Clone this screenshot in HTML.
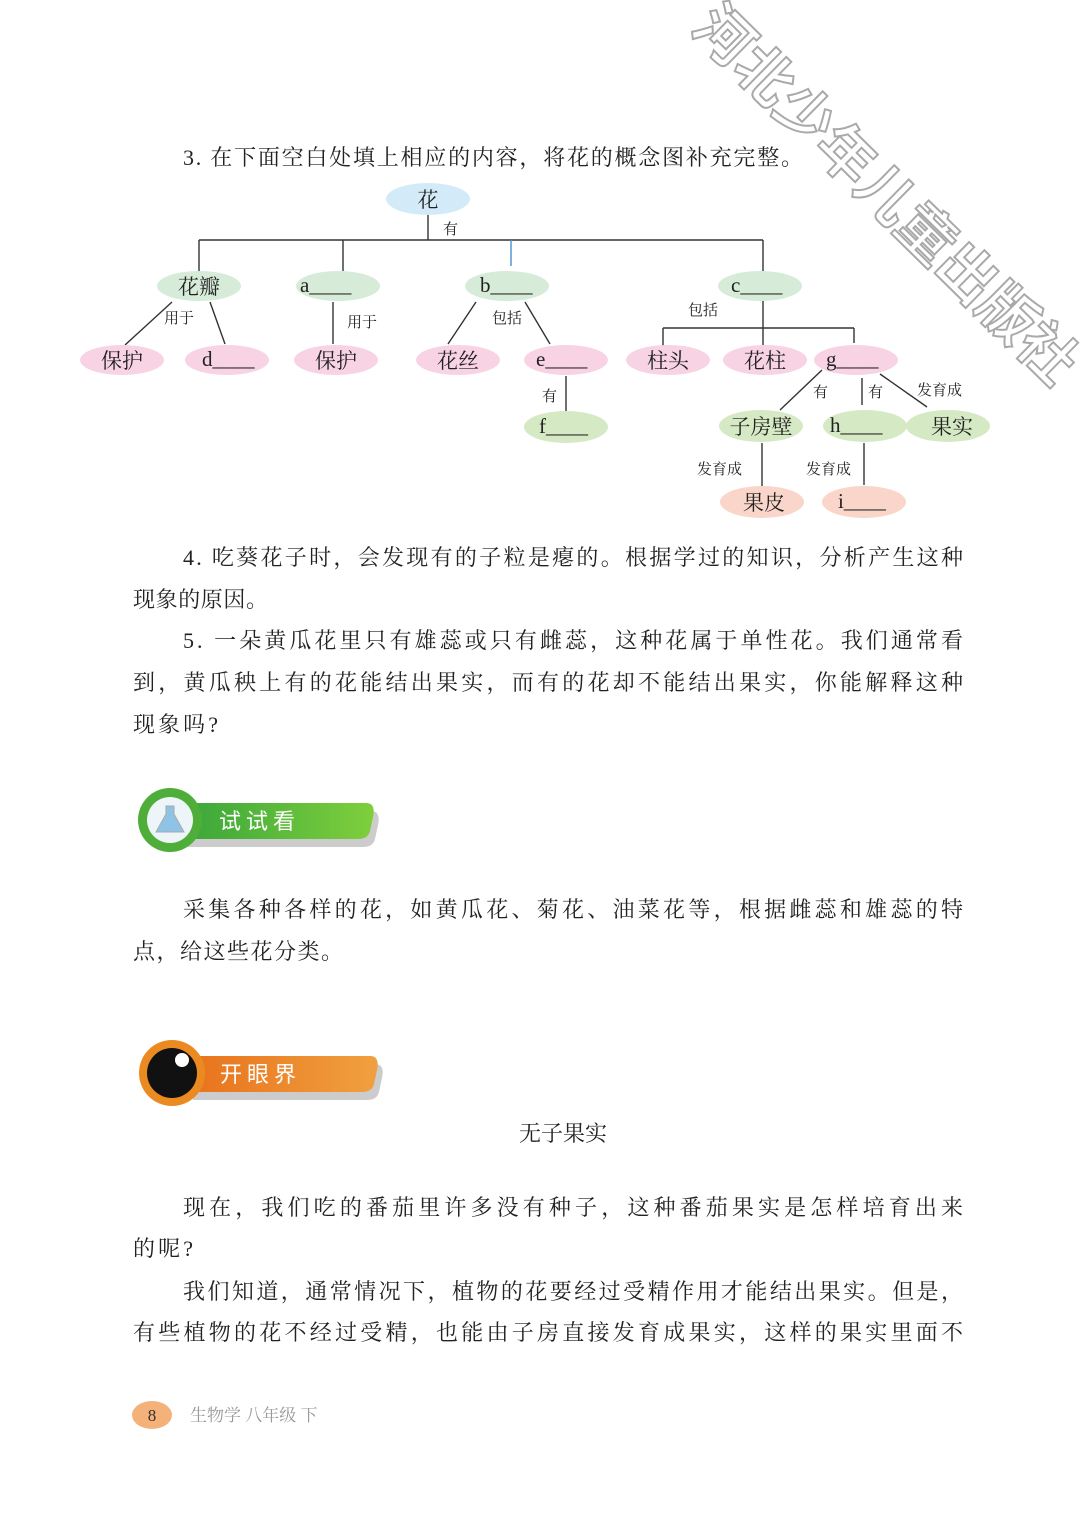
<!DOCTYPE html>
<html><head><meta charset="utf-8"><style>
html,body{margin:0;padding:0;background:#fff;}
svg{display:block;}
text{font-family:"Liberation Serif","Noto Serif CJK SC",serif;fill:#222;}
.t{font-size:22px;}
.s{font-size:15px;}
.n{font-size:21px;}
</style></head><body>
<svg width="1080" height="1527" viewBox="0 0 1080 1527" xmlns="http://www.w3.org/2000/svg">
<rect width="1080" height="1527" fill="#fff"/>
<!-- watermark -->
<text x="0" y="0" transform="translate(690,30) rotate(44.5)" font-size="58" font-weight="bold" style="fill:#fff;stroke:#a9a9a9;stroke-width:2;font-family:'Noto Sans CJK SC',sans-serif" textLength="510" lengthAdjust="spacingAndGlyphs">河北少年儿童出版社</text>

<text class="t" x="183" y="165" textLength="620">3. 在下面空白处填上相应的内容，将花的概念图补充完整。</text>

<!-- diagram lines -->
<g stroke="#333" stroke-width="1.4" fill="none">
<line x1="428" y1="214" x2="428" y2="240"/>
<line x1="199" y1="240" x2="763" y2="240"/>
<line x1="199" y1="240" x2="199" y2="271"/>
<line x1="343" y1="240" x2="343" y2="271"/>
<line x1="763" y1="240" x2="763" y2="271"/>
<line x1="172" y1="302" x2="125" y2="345"/>
<line x1="210" y1="302" x2="225" y2="344"/>
<line x1="333" y1="302" x2="333" y2="344"/>
<line x1="476" y1="302" x2="448" y2="344"/>
<line x1="525" y1="302" x2="550" y2="344"/>
<line x1="763" y1="301" x2="763" y2="345"/>
<line x1="663" y1="328" x2="854" y2="328"/>
<line x1="663" y1="328" x2="663" y2="346"/>
<line x1="854" y1="328" x2="854" y2="343"/>
<line x1="566" y1="376" x2="566" y2="411"/>
<line x1="822" y1="370" x2="780" y2="410"/>
<line x1="862" y1="378" x2="862" y2="405"/>
<line x1="880" y1="374" x2="927" y2="407"/>
<line x1="762" y1="443" x2="762" y2="486"/>
<line x1="864" y1="443" x2="864" y2="485"/>
</g>
<line x1="511" y1="240" x2="511" y2="266" stroke="#4a8fd0" stroke-width="1.4"/>

<!-- nodes -->
<g>
<ellipse cx="428" cy="199" rx="42" ry="16" fill="#d3ebf8"/>
<ellipse cx="199" cy="286" rx="42" ry="15" fill="#d6ecd9"/>
<ellipse cx="338" cy="286" rx="42" ry="15" fill="#d6ecd9"/>
<ellipse cx="507" cy="286" rx="42" ry="15" fill="#d6ecd9"/>
<ellipse cx="760" cy="286" rx="42" ry="15" fill="#d6ecd9"/>
<ellipse cx="122" cy="360" rx="42" ry="15" fill="#f8d3e4"/>
<ellipse cx="227" cy="360" rx="42" ry="15" fill="#f8d3e4"/>
<ellipse cx="336" cy="360" rx="42" ry="15" fill="#f8d3e4"/>
<ellipse cx="458" cy="360" rx="42" ry="15" fill="#f8d3e4"/>
<ellipse cx="566" cy="360" rx="42" ry="15" fill="#f8d3e4"/>
<ellipse cx="668" cy="360" rx="42" ry="15" fill="#f8d3e4"/>
<ellipse cx="765" cy="360" rx="42" ry="15" fill="#f8d3e4"/>
<ellipse cx="856" cy="360" rx="42" ry="15" fill="#f8d3e4"/>
<ellipse cx="566" cy="427" rx="42" ry="16" fill="#d5e9c4"/>
<ellipse cx="761" cy="426" rx="42" ry="16" fill="#d5e9c4"/>
<ellipse cx="865" cy="426" rx="42" ry="16" fill="#d5e9c4"/>
<ellipse cx="948" cy="426" rx="42" ry="16" fill="#d5e9c4"/>
<ellipse cx="762" cy="502" rx="42" ry="16" fill="#f9d6c9"/>
<ellipse cx="864" cy="502" rx="42" ry="16" fill="#f9d6c9"/>
</g>
<g class="n" text-anchor="middle">
<text x="428" y="207" class="n">花</text>
<text x="199" y="294" class="n">花瓣</text>
<text x="122" y="368" class="n">保护</text>
<text x="336" y="368" class="n">保护</text>
<text x="458" y="368" class="n">花丝</text>
<text x="668" y="368" class="n">柱头</text>
<text x="765" y="368" class="n">花柱</text>
<text x="761" y="434" class="n">子房壁</text>
<text x="952" y="434" class="n">果实</text>
<text x="764" y="510" class="n">果皮</text>
</g>
<g class="n">
<text x="300" y="292" class="n">a____</text>
<text x="480" y="292" class="n">b____</text>
<text x="731" y="292" class="n">c____</text>
<text x="202" y="366" class="n">d____</text>
<text x="536" y="366" class="n">e____</text>
<text x="826" y="366" class="n">g____</text>
<text x="539" y="433" class="n">f____</text>
<text x="830" y="432" class="n">h____</text>
<text x="838" y="508" class="n">i____</text>
</g>
<g class="s">
<text x="443" y="234" class="s">有</text>
<text x="164" y="323" class="s">用于</text>
<text x="347" y="327" class="s">用于</text>
<text x="492" y="323" class="s">包括</text>
<text x="688" y="315" class="s">包括</text>
<text x="542" y="401" class="s">有</text>
<text x="813" y="397" class="s">有</text>
<text x="868" y="397" class="s">有</text>
<text x="917" y="395" class="s">发育成</text>
<text x="697" y="474" class="s">发育成</text>
<text x="806" y="474" class="s">发育成</text>
</g>

<!-- questions -->
<text class="t" x="183" y="565" textLength="780">4. 吃葵花子时，会发现有的子粒是瘪的。根据学过的知识，分析产生这种</text>
<text class="t" x="133" y="607" textLength="135">现象的原因。</text>
<text class="t" x="183" y="648" textLength="780">5. 一朵黄瓜花里只有雄蕊或只有雌蕊，这种花属于单性花。我们通常看</text>
<text class="t" x="133" y="690" textLength="830">到，黄瓜秧上有的花能结出果实，而有的花却不能结出果实，你能解释这种</text>
<text class="t" x="133" y="732" textLength="85">现象吗?</text>

<!-- badge 1 -->
<defs>
<linearGradient id="g1" x1="0" x2="1"><stop offset="0" stop-color="#3aa63a"/><stop offset="1" stop-color="#7fcf3c"/></linearGradient>
<linearGradient id="g2" x1="0" x2="1"><stop offset="0" stop-color="#e8731c"/><stop offset="1" stop-color="#f0a040"/></linearGradient>
</defs>
<path d="M185 806 H368 Q378 806 375 820 L372 834 Q370 842 360 842 H185 Z" fill="#ccc" transform="translate(3,5)"/>
<path d="M185 803 H366 Q376 803 373 817 L370 831 Q368 839 358 839 H185 Z" fill="url(#g1)"/>
<circle cx="170" cy="820" r="32" fill="#4fad3a"/>
<circle cx="170" cy="820" r="23" fill="#eef5f8"/>
<path d="M166 806 h8 v8 l10 18 h-28 l10 -18 z" fill="#8fc3e6" stroke="#aaa" stroke-width="1"/>
<text x="219" y="829" font-size="22" style="fill:#fff;font-family:'Noto Sans CJK SC',sans-serif" letter-spacing="5">试试看</text>

<text class="t" x="183" y="917" textLength="780">采集各种各样的花，如黄瓜花、菊花、油菜花等，根据雌蕊和雄蕊的特</text>
<text class="t" x="133" y="959" textLength="210">点，给这些花分类。</text>

<!-- badge 2 -->
<path d="M190 1059 H372 Q382 1059 379 1073 L376 1087 Q374 1095 364 1095 H190 Z" fill="#ccc" transform="translate(3,5)"/>
<path d="M190 1056 H370 Q380 1056 377 1070 L374 1084 Q372 1092 362 1092 H190 Z" fill="url(#g2)"/>
<circle cx="172" cy="1073" r="33" fill="#ec8a22"/>
<circle cx="172" cy="1073" r="25" fill="#111"/>
<circle cx="182" cy="1060" r="7" fill="#fff"/>
<text x="220" y="1082" font-size="22" style="fill:#fff;font-family:'Noto Sans CJK SC',sans-serif" letter-spacing="5">开眼界</text>

<text class="t" x="563" y="1141" text-anchor="middle">无子果实</text>

<text class="t" x="183" y="1215" textLength="780">现在，我们吃的番茄里许多没有种子，这种番茄果实是怎样培育出来</text>
<text class="t" x="133" y="1256" textLength="60">的呢?</text>
<text class="t" x="183" y="1299" textLength="780">我们知道，通常情况下，植物的花要经过受精作用才能结出果实。但是，</text>
<text class="t" x="133" y="1340" textLength="830">有些植物的花不经过受精，也能由子房直接发育成果实，这样的果实里面不</text>

<!-- footer -->
<ellipse cx="152" cy="1415" rx="20" ry="14" fill="#f4b27a"/>
<text x="152" y="1421" text-anchor="middle" font-size="17" style="fill:#333">8</text>
<text x="190" y="1421" font-size="17" style="fill:#999">生物学 八年级 下</text>
</svg>
</body></html>
